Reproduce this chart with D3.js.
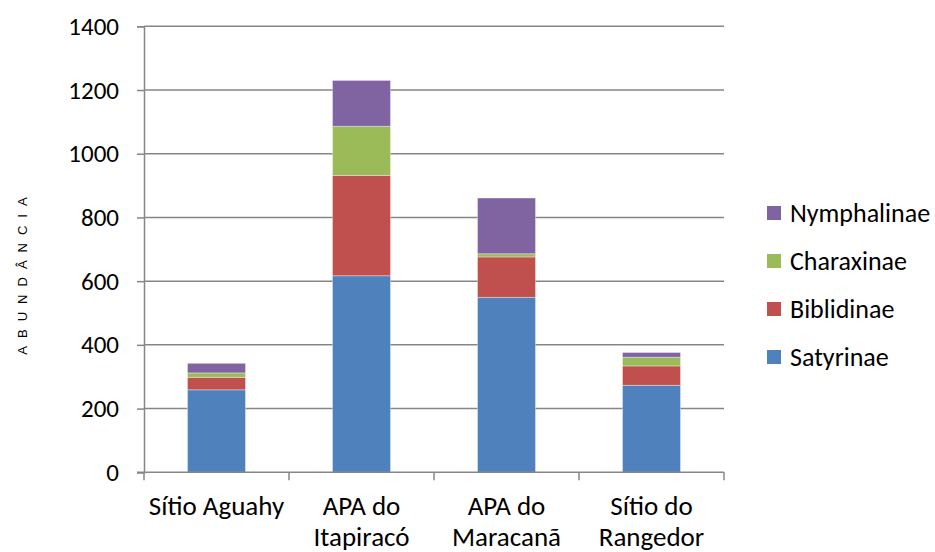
<!DOCTYPE html>
<html>
<head>
<meta charset="utf-8">
<script src="https://cdn.jsdelivr.net/npm/d3@7"></script>
<style>
  body { margin: 0; background: #fff; }
  svg text { fill: #000; }
</style>
</head>
<body>
<svg id="chart" width="935" height="552"></svg>
<script>
// data
var sites = ['Sítio Aguahy', 'APA do Itapiracó', 'APA do Maracanã', 'Sítio do Rangedor'];
var siteLines = [['Sítio Aguahy'], ['APA do', 'Itapiracó'], ['APA do', 'Maracanã'], ['Sítio do', 'Rangedor']];
var subfamilies = ['Satyrinae', 'Biblidinae', 'Charaxinae', 'Nymphalinae'];
var satyrinae = [259, 617, 549, 273];
var biblidinae = [39, 315, 127, 61];
var charaxinae = [14, 154, 10, 27];
var nymphalinae = [30, 144, 175, 15];
var yTicks = [0, 200, 400, 600, 800, 1000, 1200, 1400];
var colors = ['#4F81BD', '#C0504D', '#9BBB59', '#8064A2'];

var FONT = 'Carlito, Calibri, Lato, sans-serif';
var svg = d3.select('#chart');
var mLeft = 144, mRight = 724, mTop = 26.3, mBottom = 472.3;

var rows = sites.map(function(s, i) {
  return { site: s, Satyrinae: satyrinae[i], Biblidinae: biblidinae[i],
           Charaxinae: charaxinae[i], Nymphalinae: nymphalinae[i] };
});

var x = d3.scaleBand().domain(sites).range([mLeft, mRight]).paddingInner(0.6).paddingOuter(0.3);
var xb = d3.scaleBand().domain(sites).range([mLeft, mRight]);
var y = d3.scaleLinear().domain([0, 1400]).range([mBottom, mTop]);
var color = d3.scaleOrdinal().domain(subfamilies).range(colors);

// gridlines
svg.append('g').selectAll('line')
  .data(yTicks.slice(1))
  .enter().append('line')
  .attr('x1', mLeft).attr('x2', mRight)
  .attr('y1', function(d) { return y(d); })
  .attr('y2', function(d) { return y(d); })
  .attr('stroke', '#868686').attr('stroke-width', 1.5);

// stacked bars
var series = d3.stack().keys(subfamilies)(rows);
svg.append('g').selectAll('g')
  .data(series)
  .enter().append('g')
  .attr('fill', function(d) { return color(d.key); })
  .selectAll('rect')
  .data(function(d) { return d; })
  .enter().append('rect')
  .attr('x', function(d) { return x(d.data.site); })
  .attr('width', x.bandwidth())
  .attr('y', function(d) { return y(d[1]); })
  .attr('height', function(d) { return y(d[0]) - y(d[1]); })
  .attr('stroke', 'rgba(255,255,255,0.35)').attr('stroke-width', 1);

// y axis
var yAxis = svg.append('g')
  .attr('transform', 'translate(' + mLeft + ',0)')
  .call(d3.axisLeft(y).tickValues(yTicks).tickSize(7).tickPadding(18).tickFormat(d3.format('d')));
yAxis.select('.domain').attr('stroke', '#868686').attr('stroke-width', 1.5);
yAxis.selectAll('.tick line').attr('stroke', '#868686').attr('stroke-width', 1.5);
yAxis.selectAll('.tick text').style('font-size', '25px').style('font-family', FONT).attr('fill', '#000');

// x axis
svg.append('line').attr('x1', mLeft - 7).attr('x2', mRight).attr('y1', mBottom).attr('y2', mBottom)
  .attr('stroke', '#868686').attr('stroke-width', 1.5);
var bounds = sites.map(function(s) { return xb(s); }).concat([mRight]);
svg.append('g').selectAll('line')
  .data(bounds)
  .enter().append('line')
  .attr('x1', function(d) { return d; }).attr('x2', function(d) { return d; })
  .attr('y1', mBottom).attr('y2', mBottom + 8)
  .attr('stroke', '#868686').attr('stroke-width', 1.5);

var labels = svg.append('g').selectAll('text')
  .data(sites)
  .enter().append('text')
  .attr('x', function(d) { return xb(d) + xb.bandwidth() / 2; })
  .attr('text-anchor', 'middle')
  .style('font-family', FONT)
  .style('font-size', '27px');
labels.selectAll('tspan')
  .data(function(d, i) { return siteLines[i]; })
  .enter().append('tspan')
  .attr('x', function() { return d3.select(this.parentNode).attr('x'); })
  .attr('y', function(d, j) { return 515 + j * 31; })
  .text(function(d) { return d; });

// y title
svg.append('text')
  .attr('transform', 'translate(27,272) rotate(-90)')
  .attr('text-anchor', 'middle')
  .style('font-size', '13px')
  .style('letter-spacing', '8px')
  .style('font-family', '"Liberation Sans", Arial, sans-serif')
  .text('ABUNDÂNCIA');

// legend
var legend = svg.append('g').selectAll('g')
  .data(subfamilies.slice().reverse())
  .enter().append('g')
  .attr('transform', function(d, i) { return 'translate(767,' + (206 + i * 48) + ')'; });
legend.append('rect').attr('width', 14).attr('height', 14)
  .attr('fill', function(d) { return color(d); });
legend.append('text').attr('x', 23).attr('y', 16)
  .style('font-family', FONT).style('font-size', '26px')
  .text(function(d) { return d; });
</script>
</body>
</html>
